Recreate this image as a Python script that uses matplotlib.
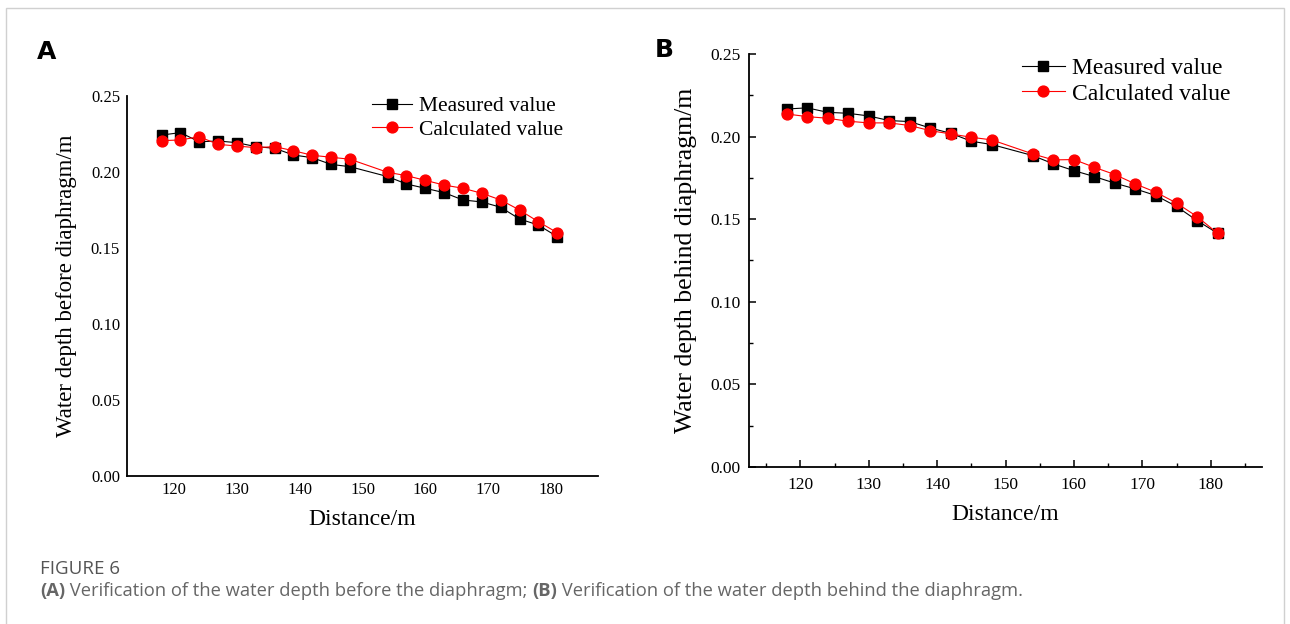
import numpy as np
import matplotlib.pyplot as plt
from matplotlib.patches import Rectangle
from matplotlib.ticker import MultipleLocator

# Measuring stations along the channel (m)
distance = [118, 121, 124, 127, 130, 133, 136, 139, 142, 145, 148,
            154, 157, 160, 163, 166, 169, 172, 175, 178, 181]

# Water depth before the diaphragm (m)
before_measured = [0.2243, 0.2259, 0.2199, 0.2204, 0.2193, 0.2167, 0.2156,
                   0.2112, 0.2094, 0.2050, 0.2035, 0.1970, 0.1921, 0.1893,
                   0.1864, 0.1816, 0.1803, 0.1768, 0.1691, 0.1651, 0.1575]
before_calculated = [0.2206, 0.2211, 0.2232, 0.2182, 0.2171, 0.2160, 0.2167,
                     0.2140, 0.2110, 0.2097, 0.2084, 0.1998, 0.1976, 0.1945,
                     0.1914, 0.1893, 0.1860, 0.1816, 0.1750, 0.1673, 0.1601]

# Water depth behind the diaphragm (m)
behind_measured = [0.2167, 0.2174, 0.2147, 0.2141, 0.2125, 0.2097, 0.2091,
                   0.2052, 0.2020, 0.1972, 0.1952, 0.1885, 0.1835, 0.1794,
                   0.1758, 0.1718, 0.1683, 0.1643, 0.1577, 0.1492, 0.1415]
behind_calculated = [0.2137, 0.2121, 0.2111, 0.2093, 0.2083, 0.2083, 0.2067,
                     0.2036, 0.2016, 0.1996, 0.1980, 0.1895, 0.1859, 0.1861,
                     0.1814, 0.1770, 0.1713, 0.1663, 0.1598, 0.1516, 0.1415]

x_ticks = [120, 130, 140, 150, 160, 170, 180]
y_ticks = [0.00, 0.05, 0.10, 0.15, 0.20, 0.25]

serif = 'Liberation Serif'

fig = plt.figure(figsize=(12.9, 6.24), dpi=100)

# light frame around the figure
fig.patches.append(Rectangle((6 / 1290, -0.05), 1278 / 1290, 1.05 - 8 / 624,
                             transform=fig.transFigure, fill=False,
                             edgecolor='#d0d0d0', linewidth=1.0))


def draw_panel(ax, measured, calculated, ylabel, xtick_fs, ytick_fs, label_fs,
               ylabel_fs, legend_fs, legend_pos, ticks_on):
    ax.plot(distance, measured, color='black', linewidth=0.8, marker='s',
            markersize=6.5, label='Measured value')
    ax.plot(distance, calculated, color='#ff0000', linewidth=0.8, marker='o',
            markersize=7.8, label='Calculated value')
    ax.set_xlim(112.5, 187.5)
    ax.set_ylim(0, 0.25)
    ax.set_xticks(x_ticks)
    ax.set_yticks(y_ticks)
    ax.set_xticklabels([str(v) for v in x_ticks], fontfamily=serif, fontsize=xtick_fs)
    ax.set_yticklabels(['%.2f' % v for v in y_ticks], fontfamily=serif, fontsize=ytick_fs)
    for side in ('top', 'right'):
        ax.spines[side].set_visible(False)
    for side in ('left', 'bottom'):
        ax.spines[side].set_linewidth(1.3)
    if ticks_on:
        ax.xaxis.set_minor_locator(MultipleLocator(5))
        ax.yaxis.set_minor_locator(MultipleLocator(0.025))
        ax.tick_params(which='major', direction='in', length=5, width=1.1)
        ax.tick_params(axis='x', which='major', pad=7)
        ax.tick_params(axis='y', which='major', pad=6)
        ax.tick_params(which='minor', direction='in', length=3, width=1.0)
    else:
        ax.tick_params(which='both', length=0)
        ax.tick_params(axis='x', pad=4)
        ax.tick_params(axis='y', pad=5)
    ax.set_xlabel('Distance/m', fontfamily=serif, fontsize=label_fs, labelpad=8)
    ax.set_ylabel(ylabel, fontfamily=serif, fontsize=ylabel_fs, labelpad=10)
    ax.legend(loc='upper left', bbox_to_anchor=legend_pos, frameon=False,
              prop={'family': serif, 'size': legend_fs}, handlelength=1.85,
              handletextpad=0.3, labelspacing=0.15)


ax_a = fig.add_axes([127 / 1290, 1 - 476 / 624, 471 / 1290, 380 / 624])
draw_panel(ax_a, before_measured, before_calculated,
           'Water depth before diaphragm/m', 12, 12, 17, 16.5, 15.5,
           (0.48, 1.05), False)

ax_b = fig.add_axes([749 / 1290, 1 - 467 / 624, 513 / 1290, 413 / 624])
draw_panel(ax_b, behind_measured, behind_calculated,
           'Water depth behind diaphragm/m', 12.5, 12.5, 17, 18.5, 17,
           (0.49, 1.042), True)

# panel letters
fig.text(37 / 1290, 1 - 52 / 624, 'A', fontsize=18, fontweight='bold',
         fontfamily='DejaVu Sans', va='center', ha='left')
fig.text(655 / 1290, 1 - 50 / 624, 'B', fontsize=18, fontweight='bold',
         fontfamily='DejaVu Sans', va='center', ha='left')

# caption
cap_color = '#666666'
fig.text(40 / 1290, 1 - 569 / 624, 'FIGURE 6', fontsize=13.5, color='#555555',
         fontfamily='Open Sans', va='center', ha='left')

pieces = [('(A)', 'bold'), (' Verification of the water depth before the diaphragm; ', 'normal'),
          ('(B)', 'bold'), (' Verification of the water depth behind the diaphragm.', 'normal')]
fig.canvas.draw()
renderer = fig.canvas.get_renderer()
x_px = 40
for txt, weight in pieces:
    t = fig.text(x_px / 1290, 1 - 591 / 624, txt, fontsize=13.25, color=cap_color,
                 fontweight=weight, fontfamily='Open Sans', va='center', ha='left')
    x_px += t.get_window_extent(renderer).width

fig.savefig('out.png', dpi=100)
